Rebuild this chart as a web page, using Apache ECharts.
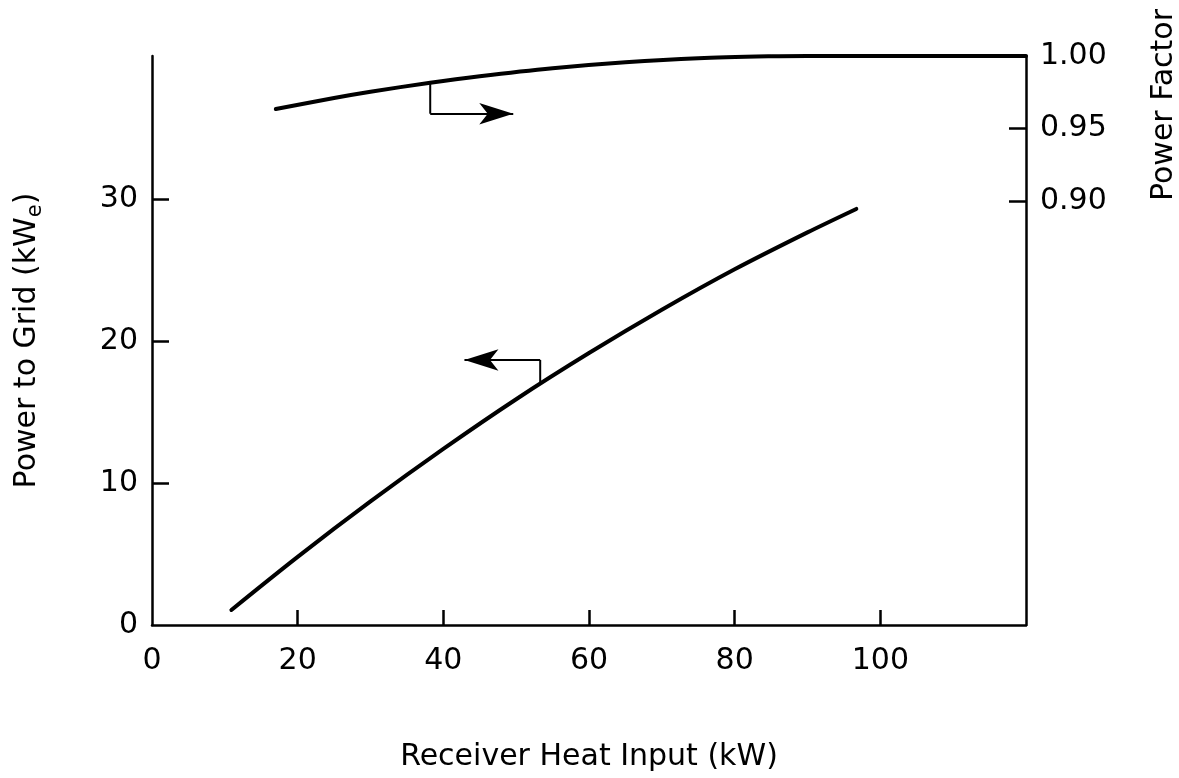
<!DOCTYPE html>
<html><head><meta charset="utf-8">
<script src="https://cdn.jsdelivr.net/npm/echarts@6/dist/echarts.min.js"></script>
<style>html,body{margin:0;padding:0;background:#fff}#c{width:1179px;height:778px}</style>
</head><body><div id="c"></div>
<script>
// ---- data ----
const heatInput   = [10.9, 20, 30, 40, 50, 60, 70, 80, 90, 96.7];
const powerToGrid = [1.06, 4.8, 8.7, 12.4, 15.9, 19.15, 22.2, 25.05, 27.65, 29.3];
const pfHeatInput = [17.0, 25, 30, 38.2, 45, 55, 65, 75, 85, 90, 120];
const powerFactor = [0.9634, 0.9710, 0.9753, 0.9816, 0.9861, 0.9916, 0.9957, 0.9985, 0.9998, 1.0, 1.0];
const xTickLabels     = [0, 20, 40, 60, 80, 100];
const xTicks          = [20, 40, 60, 80, 100];
const leftTickLabels  = [0, 10, 20, 30];
const leftTicks       = [10, 20, 30];
const rightTickLabels = [0.90, 0.95, 1.00];
const rightTicks      = [0.90, 0.95];
// arrow annotations: [point on curve, corner, arrow tip]
const pfArrow = [[38.2, 0.9816], [38.2, 0.9602], [49.6, 0.9602]];
const pgArrow = [[53.3, 17.0], [53.3, 18.66], [42.9, 18.66]];

const F = 'DejaVu Sans';
const black = '#000';

function zip(a, b) { return a.map((v, i) => [v, b[i]]); }

function arrowSeries(pts, yIdx) {
  return {
    type: 'line', yAxisIndex: yIdx, data: pts.slice(0, 2), symbol: 'none', silent: true,
    lineStyle: { color: black, width: 2 },
    markLine: {
      silent: true, symbol: ['none', 'arrow'], symbolSize: [16, 34],
      label: { show: false },
      lineStyle: { color: black, width: 2, type: 'solid' },
      emphasis: { disabled: true },
      data: [[{ coord: pts[1] }, { coord: pts[2] }]]
    }
  };
}

const chart = echarts.init(document.getElementById('c'));
chart.setOption({
  animation: false,
  backgroundColor: '#fff',
  grid: { left: 152, right: 153, top: 56, bottom: 153, containLabel: false, outerBoundsMode: 'none' },
  xAxis: {
    type: 'value', min: 0, max: 120, interval: 20,
    name: 'Receiver Heat Input (kW)', nameLocation: 'middle', nameGap: 117,
    nameTextStyle: { fontFamily: F, fontSize: 30, color: black },
    axisLine: { show: true, onZero: false, lineStyle: { color: black, width: 2.5 } },
    axisTick: { show: true, inside: true, length: 15, customValues: xTicks, lineStyle: { color: black, width: 2.5 } },
    axisLabel: { customValues: xTickLabels, fontFamily: F, fontSize: 30, color: black, margin: 21 },
    splitLine: { show: false }
  },
  yAxis: [
    {
      type: 'value', position: 'left', min: 0, max: 40.07, interval: 10,
      name: '{a|Power to Grid (kW}{s|e}{a|)}', nameLocation: 'middle', nameGap: 106,
      nameTextStyle: { rich: {
        a: { fontFamily: F, fontSize: 30, color: black },
        s: { fontFamily: F, fontSize: 21, color: black, padding: [16, 0, 0, 0] }
      } },
      axisLine: { show: true, onZero: false, lineStyle: { color: black, width: 2.5 } },
      axisTick: { show: true, inside: true, length: 17, customValues: leftTicks, lineStyle: { color: black, width: 2.5 } },
      axisLabel: { customValues: leftTickLabels, fontFamily: F, fontSize: 30, color: black, margin: 14 },
      splitLine: { show: false }
    },
    {
      type: 'value', position: 'right', min: 0.6076, max: 1.0, interval: 0.05,
      name: 'Power Factor', nameLocation: 'middle', nameGap: 123,
      nameTextStyle: { fontFamily: F, fontSize: 30, color: black, padding: [0, 0, 0, 471] },
      axisLine: { show: true, onZero: false, lineStyle: { color: black, width: 2.5 } },
      axisTick: { show: true, inside: true, length: 17, customValues: rightTicks, lineStyle: { color: black, width: 2.5 } },
      axisLabel: { customValues: rightTickLabels, fontFamily: F, fontSize: 30, color: black, margin: 14,
        formatter: v => v.toFixed(2) },
      splitLine: { show: false }
    }
  ],
  series: [
    { name: 'Power to Grid', type: 'line', yAxisIndex: 0, data: zip(heatInput, powerToGrid),
      smooth: 0.3, symbol: 'none', lineStyle: { color: black, width: 4, cap: 'round' } },
    { name: 'Power Factor', type: 'line', yAxisIndex: 1, data: zip(pfHeatInput, powerFactor),
      smooth: 0.3, symbol: 'none', lineStyle: { color: black, width: 4, cap: 'round' } },
    arrowSeries(pfArrow, 1),
    arrowSeries(pgArrow, 0)
  ]
});
</script>
</body></html>
